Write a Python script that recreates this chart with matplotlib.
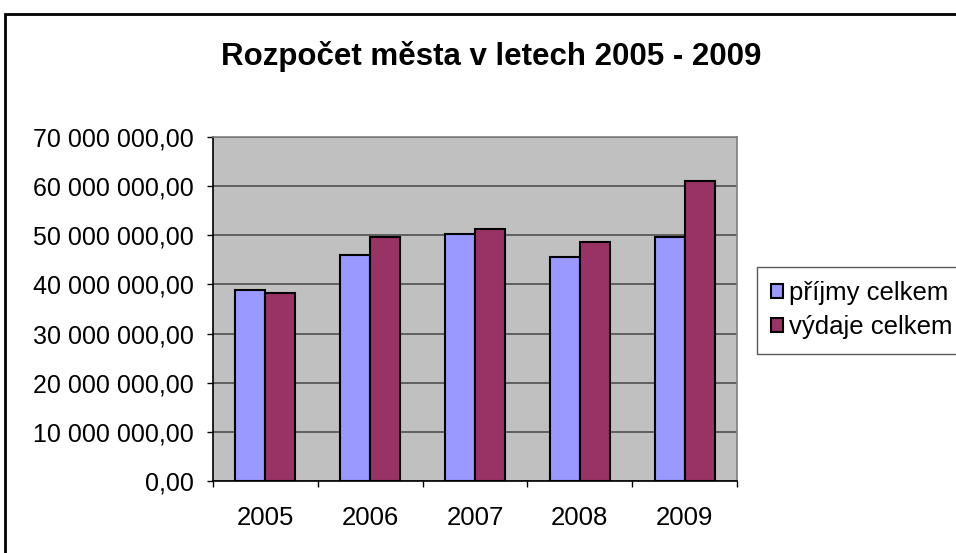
"""
Rozpocet mesta 2005 - 2009, grouped bars (Excel-like look)
"""

import numpy as np
import matplotlib.pyplot as plt
from matplotlib.patches import Rectangle
from matplotlib.ticker import FuncFormatter, FixedLocator

plt.rcParams['font.family'] = ['Liberation Sans', 'DejaVu Sans']

# data
years = ['2005', '2006', '2007', '2008', '2009']
prijmy = [38.9e6, 45.9e6, 50.3e6, 45.5e6, 49.6e6]
vydaje = [38.2e6, 49.6e6, 51.2e6, 48.7e6, 61.0e6]
series_names = ['příjmy celkem', 'výdaje celkem']
y_ticks = [0, 10e6, 20e6, 30e6, 40e6, 50e6, 60e6, 70e6]


def cz_fmt(v, pos):
    s = f"{v:,.2f}"
    return s.replace(',', ' ').replace('.', ',')


fig = plt.figure(figsize=(9.56, 5.53), dpi=100)
ax = fig.add_axes([213 / 956, 1 - 481 / 553, 524 / 956, 344 / 553])

x = np.arange(len(years))
w = 1 / 3.5
ax.bar(x - w / 2, prijmy, w, color='#9999FF', edgecolor='black', linewidth=1.5,
       label=series_names[0], zorder=3)
ax.bar(x + w / 2, vydaje, w, color='#993366', edgecolor='black', linewidth=1.5,
       label=series_names[1], zorder=3)

ax.set_facecolor('#C0C0C0')
ax.set_xlim(-0.5, len(years) - 0.5)
ax.set_ylim(0, 70e6)
ax.set_yticks(y_ticks)
ax.yaxis.set_major_formatter(FuncFormatter(cz_fmt))
ax.yaxis.grid(True, color='#505050', linewidth=1.2, zorder=1)
ax.set_axisbelow(True)

ax.set_xticks(x)
ax.set_xticklabels(years)
ax.xaxis.set_minor_locator(FixedLocator(np.arange(-0.5, len(years), 1.0)))
ax.tick_params(axis='x', which='major', length=0, pad=18, labelsize=18.5)
ax.tick_params(axis='x', which='minor', length=4, width=1, direction='out')
ax.tick_params(axis='y', length=4, width=1, pad=10, labelsize=18)

for side in ['top', 'right']:
    ax.spines[side].set_color('#808080')
    ax.spines[side].set_linewidth(1.2)
for side in ['left', 'bottom']:
    ax.spines[side].set_color('black')
    ax.spines[side].set_linewidth(1.2)

fig.text(491 / 956, 1 - 57 / 553, 'Rozpočet města v letech 2005 - 2009',
         ha='center', va='center', fontsize=22.5, fontweight='bold')

leg = fig.legend(loc='upper left', bbox_to_anchor=(757 / 956, 1 - 267 / 553),
                 fontsize=18.5, frameon=True, fancybox=False, edgecolor='#303030',
                 handlelength=0.45, handleheight=0.45, handletextpad=0.25,
                 borderpad=0.55, labelspacing=0.4, borderaxespad=0)
leg.get_frame().set_linewidth(1.0)
# pull the entries a bit closer to the left edge of the box, like the original
leg._legend_box.align = 'left'
leg.borderpad = 0.55

# outer chart frame (cut off on the right and bottom)
fig.patches.append(Rectangle((5 / 956, -0.1), 1.2, 1 - 14 / 553 + 0.1,
                             transform=fig.transFigure, fill=False,
                             edgecolor='black', linewidth=2))

fig.savefig('out.png', dpi=100)
